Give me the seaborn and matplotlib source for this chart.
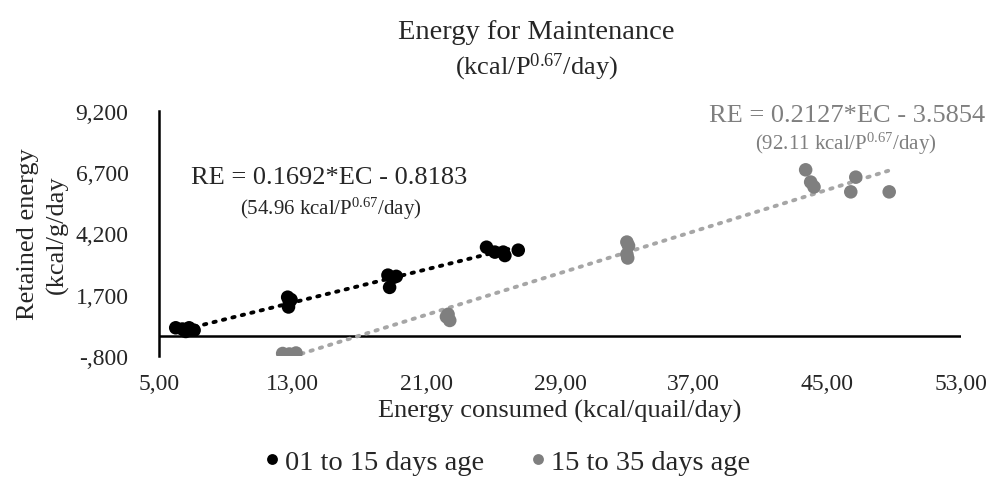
import numpy as np
import pandas as pd
import matplotlib
matplotlib.use("Agg")
import matplotlib.pyplot as plt
import seaborn as sns

# Datos
ec_young = [6.0, 6.4, 6.8, 7.1, 6.6, 12.7, 12.8, 12.75, 12.9, 18.7, 19.0, 18.8, 19.2,
            24.6, 25.1, 25.6, 25.7, 26.5]
re_young = [0.35, 0.30, 0.35, 0.25, 0.20, 1.60, 1.40, 1.20, 1.50, 2.50, 2.40, 2.00, 2.45,
            3.64, 3.44, 3.44, 3.30, 3.52]
ec_old = [12.4, 12.8, 13.2, 22.2, 22.3, 22.4, 33.0, 33.1, 33.05, 33.0,
          43.7, 44.0, 44.2, 46.7, 46.4, 48.7]
re_old = [-0.70, -0.72, -0.68, 0.80, 0.90, 0.65, 3.85, 3.70, 3.20, 3.35,
          6.80, 6.30, 6.10, 6.50, 5.90, 5.90]

groups = ["01 to 15 days age", "15 to 35 days age"]
slopes = [0.1692, 0.2127]
intercepts = [-0.8183, -3.5854]
equations = ["RE = 0.1692*EC - 0.8183", "RE = 0.2127*EC - 3.5854"]
maint = ["(54.96 kcal/P$^{0.67}$/day)", "(92.11 kcal/P$^{0.67}$/day)"]

x_ticks = [5, 13, 21, 29, 37, 45, 53]
x_labels = ["5,00", "13,00", "21,00", "29,00", "37,00", "45,00", "53,00"]
y_ticks = [-0.8, 1.7, 4.2, 6.7, 9.2]
y_labels = ["-,800", "1,700", "4,200", "6,700", "9,200"]

df = pd.DataFrame({
    "EC": ec_young + ec_old,
    "RE": re_young + re_old,
    "Group": [groups[0]] * len(ec_young) + [groups[1]] * len(ec_old),
})

# Estilo
sns.set_style("white")
plt.rcParams["font.family"] = ["Liberation Serif", "DejaVu Serif"]
plt.rcParams["mathtext.fontset"] = "custom"
plt.rcParams["mathtext.rm"] = "Liberation Serif"
plt.rcParams["mathtext.default"] = "regular"

colors = ["#000000", "#7f7f7f"]
line_colors = ["#000000", "#a6a6a6"]
text_colors = ["#262626", "#7f7f7f"]

fig = plt.figure(figsize=(9.92, 4.85), dpi=100)
ax = fig.add_axes([0.1603, 0.264, 0.8085, 0.505])

sns.scatterplot(data=df, x="EC", y="RE", hue="Group", palette=colors,
                s=95, edgecolor="none", ax=ax, zorder=3)

# Lineas de tendencia a partir de las ecuaciones
for i, g in enumerate(groups):
    xs = df.loc[df["Group"] == g, "EC"]
    xr = np.array([xs.min(), xs.max()])
    ax.plot(xr, slopes[i] * xr + intercepts[i], color=line_colors[i],
            lw=2.8, linestyle=(0, (0.6, 1.9)), dash_capstyle="round", zorder=2)

ax.axhline(0, color="black", lw=1.8, zorder=1)
ax.set_xlim(5, 53)
ax.set_ylim(-0.8, 9.2)
ax.set_xticks(x_ticks)
ax.set_xticklabels(x_labels)
ax.set_yticks(y_ticks)
ax.set_yticklabels(y_labels)
ax.tick_params(axis="both", length=0, labelsize=17, colors="#262626")
ax.tick_params(axis="y", pad=22)
ax.tick_params(axis="x", pad=12)
for side in ["top", "right", "bottom"]:
    ax.spines[side].set_visible(False)
ax.spines["left"].set_color("black")
ax.spines["left"].set_linewidth(1.8)

ax.set_xlabel("Energy consumed (kcal/quail/day)", fontsize=19, color="#262626", labelpad=4)
ax.set_ylabel("Retained energy\n(kcal/g/day", fontsize=19, color="#262626",
              labelpad=5, linespacing=1.35)

# Ecuaciones
ax.text(15.2, 6.5, equations[0], fontsize=19, color=text_colors[0], ha="center", va="center")
ax.text(15.3, 5.25, maint[0], fontsize=15, color=text_colors[0], ha="center", va="center")
ax.text(46.2, 9.05, equations[1], fontsize=19, color=text_colors[1], ha="center", va="center")
ax.text(46.1, 7.9, maint[1], fontsize=15, color=text_colors[1], ha="center", va="center")

# Titulo
fig.text(0.541, 0.932, "Energy for Maintenance", fontsize=20.5, color="#262626",
         ha="center", va="center")
fig.text(0.541, 0.862, "(kcal/P$^{0.67}$/day)", fontsize=19, color="#262626",
         ha="center", va="center")

# Leyenda
handles, labels = ax.get_legend_handles_labels()
ax.get_legend().remove()
fig.legend(handles, labels, loc="center", bbox_to_anchor=(0.511, 0.045), ncol=2,
           frameon=False, fontsize=20.5, markerscale=0.8, handlelength=0.6,
           handletextpad=0.15, columnspacing=1.6, labelcolor="#262626")

fig.savefig("out.png", dpi=100)
